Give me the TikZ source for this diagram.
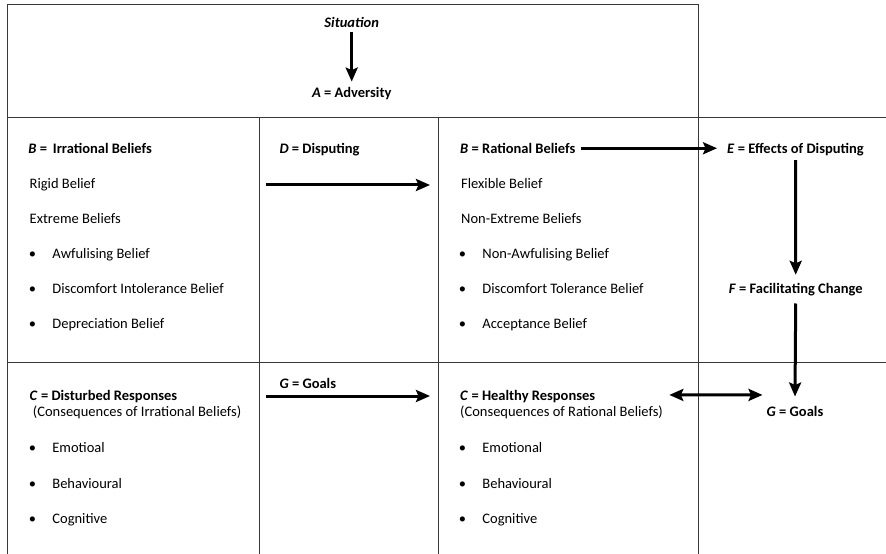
\documentclass[tikz,border=0pt]{standalone}
\usepackage{fontspec}
\setmainfont{Carlito}
\usetikzlibrary{arrows.meta}
\begin{document}
\begin{tikzpicture}[x=1bp,y=-1bp,
  gridline/.style={draw=black!78, line width=1bp},
  txt/.style={inner sep=0pt, anchor=base west, text height=11bp, text depth=3.5bp,
              font=\fontsize{14.5bp}{16bp}\selectfont},
  ctxt/.style={txt, anchor=base},
  tip/.tip={Stealth[length=14bp,width=12bp,inset=2.5bp]},
  arr/.style={line width=3bp, -tip},
  darr/.style={line width=3bp, tip-tip}]
\useasboundingbox (0,0) rectangle (886,554);
\newcommand{\bul}[1]{\makebox[23.5bp][l]{•}#1}
% grid
\draw[gridline] (7,554) -- (7,5) -- (698,5) -- (698,554);
\draw[gridline] (7,118) -- (886,118);
\draw[gridline] (7,362) -- (886,362);
\draw[gridline] (259,118) -- (259,554);
\draw[gridline] (438,118) -- (438,554);
% top
\node[ctxt] (sit) at (351.7,27.3) {\textbf{\textit{Situation}}};
\node[ctxt] (adv) at (351.7,97.3) {\textbf{\textit{A} = Adversity}};
\draw[arr] ([yshift=-1bp]sit.south) -- ([yshift=4.5bp]adv.north);
% left column, beliefs
\node[txt] (ib) at (28.3,154) {\textbf{\textit{B} =\hspace{2.5bp} Irrational Beliefs}};
\node[txt] (ib1) at (29.5,188.3) {Rigid Belief};
\node[txt] (ib2) at (29.5,223.3) {Extreme Beliefs};
\node[txt] (ib3) at (28.7,258.3) {\bul{Awfulising Belief}};
\node[txt] (ib4) at (28.7,293.3) {\bul{Discomfort Intolerance Belief}};
\node[txt] (ib5) at (28.7,328.3) {\bul{Depreciation Belief}};
% middle column
\node[txt] (dd) at (279.3,154) {\textbf{\textit{D} = Disputing}};
\coordinate (d1) at (266,185);
\coordinate (d2) at (430,185);
\draw[arr] (d1) -- (d2);
\node[txt] (gm) at (279.3,388.3) {\textbf{\textit{G} = Goals}};
\coordinate (g1) at (266,396);
\coordinate (g2) at (430,396);
\draw[arr] (g1) -- (g2);
% right column, beliefs
\node[txt] (rb) at (460,154) {\textbf{\textit{B} = Rational Beliefs}};
\node[txt] (rb1) at (461,188.3) {Flexible Belief};
\node[txt] (rb2) at (461,223.3) {Non-Extreme Beliefs};
\node[txt] (rb3) at (458.7,258.3) {\bul{Non-Awfulising Belief}};
\node[txt] (rb4) at (458.7,293.3) {\bul{Discomfort Tolerance Belief}};
\node[txt] (rb5) at (458.7,328.3) {\bul{Acceptance Belief}};
% far right
\node[ctxt] (e) at (795.5,154) {\textbf{\textit{E} = Effects of Disputing}};
\node[ctxt] (f) at (795.7,293.3) {\textbf{\textit{F} = Facilitating Change}};
\node[ctxt] (g) at (795,416) {\textbf{\textit{G} = Goals}};
\draw[arr] ([xshift=5bp,yshift=2bp]rb.east) -- ([xshift=-10bp,yshift=2bp]e.west);
\draw[arr] ([yshift=-2.5bp]e.south) -- ([yshift=7.3bp]f.north);
\draw[arr] ([yshift=-6.5bp]f.south) -- ([yshift=8.3bp]g.north);
% bottom left
\node[txt] (cd) at (29.5,400.7) {\textbf{\textit{C} = Disturbed Responses}};
\node[txt] (cd0) at (29.5,416.7) {\ (Consequences of Irrational Beliefs)};
\node[txt] (cd1) at (28.7,452.7) {\bul{Emotioal}};
\node[txt] (cd2) at (28.7,488.3) {\bul{Behavioural}};
\node[txt] (cd3) at (28.7,523.3) {\bul{Cognitive}};
% bottom right
\node[txt] (ch) at (460,400.7) {\textbf{\textit{C} = Healthy Responses}};
\node[txt] (ch0) at (460,416.7) {(Consequences of Rational Beliefs)};
\node[txt] (ch1) at (458.7,452.7) {\bul{Emotional}};
\node[txt] (ch2) at (458.7,488.3) {\bul{Behavioural}};
\node[txt] (ch3) at (458.7,523.3) {\bul{Cognitive}};
\draw[darr] ([xshift=74bp,yshift=2bp]ch.east) -- ([xshift=-4bp,yshift=17.3bp]g.west);
\end{tikzpicture}
\end{document}
